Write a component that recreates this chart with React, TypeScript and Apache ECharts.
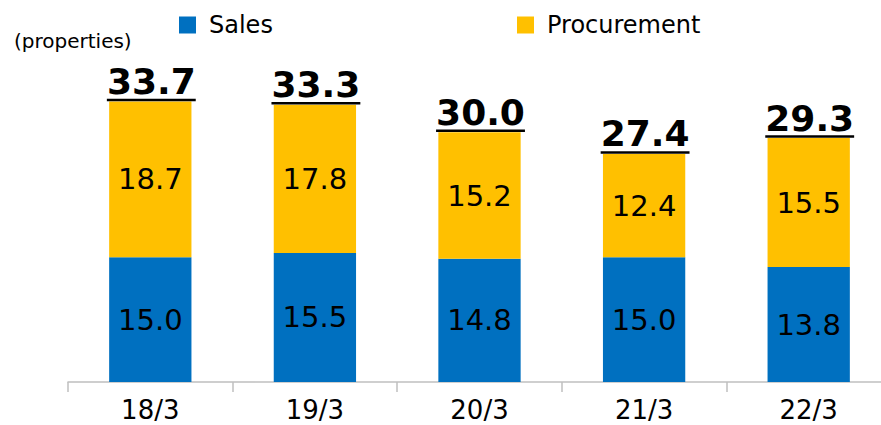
import React, { useEffect, useRef } from "react";
import * as echarts from "echarts";

const categories = ["18/3", "19/3", "20/3", "21/3", "22/3"];
const salesValues = [15.0, 15.5, 14.8, 15.0, 13.8];
const procurementValues = [18.7, 17.8, 15.2, 12.4, 15.5];
const totalValues = [33.7, 33.3, 30.0, 27.4, 29.3];

const FONT = "'DejaVu Sans', Verdana, sans-serif";

export default function App() {
  const ref = useRef<HTMLDivElement>(null);
  useEffect(() => {
    if (!ref.current) return;
    const chart = echarts.init(ref.current, null, { renderer: "svg" });
    chart.setOption({
      animation: false,
      backgroundColor: "#ffffff",
      textStyle: { fontFamily: FONT },
      grid: { left: 68, width: 823, top: 49, height: 333, containLabel: false, outerBoundsMode: "none" },
      legend: [
        {
          data: ["Sales"],
          left: 174,
          top: 8,
          icon: "rect",
          itemWidth: 17,
          itemHeight: 17,
          textStyle: { fontSize: 24, color: "#000", fontFamily: FONT, padding: [0, 0, 0, 8] },
          selectedMode: false,
        },
        {
          data: ["Procurement"],
          left: 512,
          top: 8,
          icon: "rect",
          itemWidth: 17,
          itemHeight: 17,
          textStyle: { fontSize: 24, color: "#000", fontFamily: FONT, padding: [0, 0, 0, 8] },
          selectedMode: false,
        },
      ],
      graphic: [
        {
          type: "text",
          left: 14,
          top: 31,
          style: { text: "(properties)", fontSize: 20, fill: "#000", fontFamily: FONT },
        },
      ],
      xAxis: {
        type: "category",
        data: categories,
        boundaryGap: true,
        axisLine: { show: true, lineStyle: { color: "#BFBFBF", width: 1.5 } },
        axisTick: { show: true, alignWithLabel: false, length: 10, lineStyle: { color: "#BFBFBF", width: 1.5 } },
        axisLabel: { fontSize: 26, color: "#000", margin: 15, fontFamily: FONT },
      },
      yAxis: {
        type: "value",
        min: 0,
        max: 40,
        show: false,
        splitLine: { show: false },
      },
      series: [
        {
          name: "Sales",
          type: "bar",
          stack: "total",
          barWidth: "50%",
          data: salesValues,
          itemStyle: { color: "#0070C0" },
          label: {
            show: true,
            position: "inside",
            fontSize: 29,
            color: "#000",
            fontFamily: FONT,
            formatter: (p: any) => Number(p.value).toFixed(1),
          },
        },
        {
          name: "Procurement",
          type: "bar",
          stack: "total",
          barWidth: "50%",
          data: procurementValues,
          itemStyle: { color: "#FFC000" },
          label: {
            show: true,
            position: "inside",
            fontSize: 29,
            color: "#000",
            fontFamily: FONT,
            formatter: (p: any) => Number(p.value).toFixed(1),
          },
        },
        {
          name: "Total",
          type: "custom",
          z: 10,
          data: totalValues.map((v, i) => [i, v]),
          renderItem: (params: any, api: any) => {
            const pt = api.coord([api.value(0), api.value(1)]);
            const w = api.size([1, 0])[0] * 0.54;
            return {
              type: "group",
              children: [
                {
                  type: "text",
                  x: pt[0] + 1,
                  y: pt[1] - 2,
                  style: {
                    text: Number(api.value(1)).toFixed(1),
                    align: "center",
                    verticalAlign: "bottom",
                    fontSize: 36,
                    fontWeight: "bold",
                    fill: "#000",
                    fontFamily: FONT,
                  },
                },
                {
                  type: "line",
                  shape: { x1: pt[0] - w / 2 + 1, y1: pt[1] - 1.5, x2: pt[0] + w / 2 + 1, y2: pt[1] - 1.5 },
                  style: { stroke: "#000", lineWidth: 2.5 },
                },
              ],
            };
          },
        },
      ],
    });
    return () => chart.dispose();
  }, []);
  return <div ref={ref} style={{ width: 881, height: 425, position: "absolute", left: 0, top: 0 }} />;
}
